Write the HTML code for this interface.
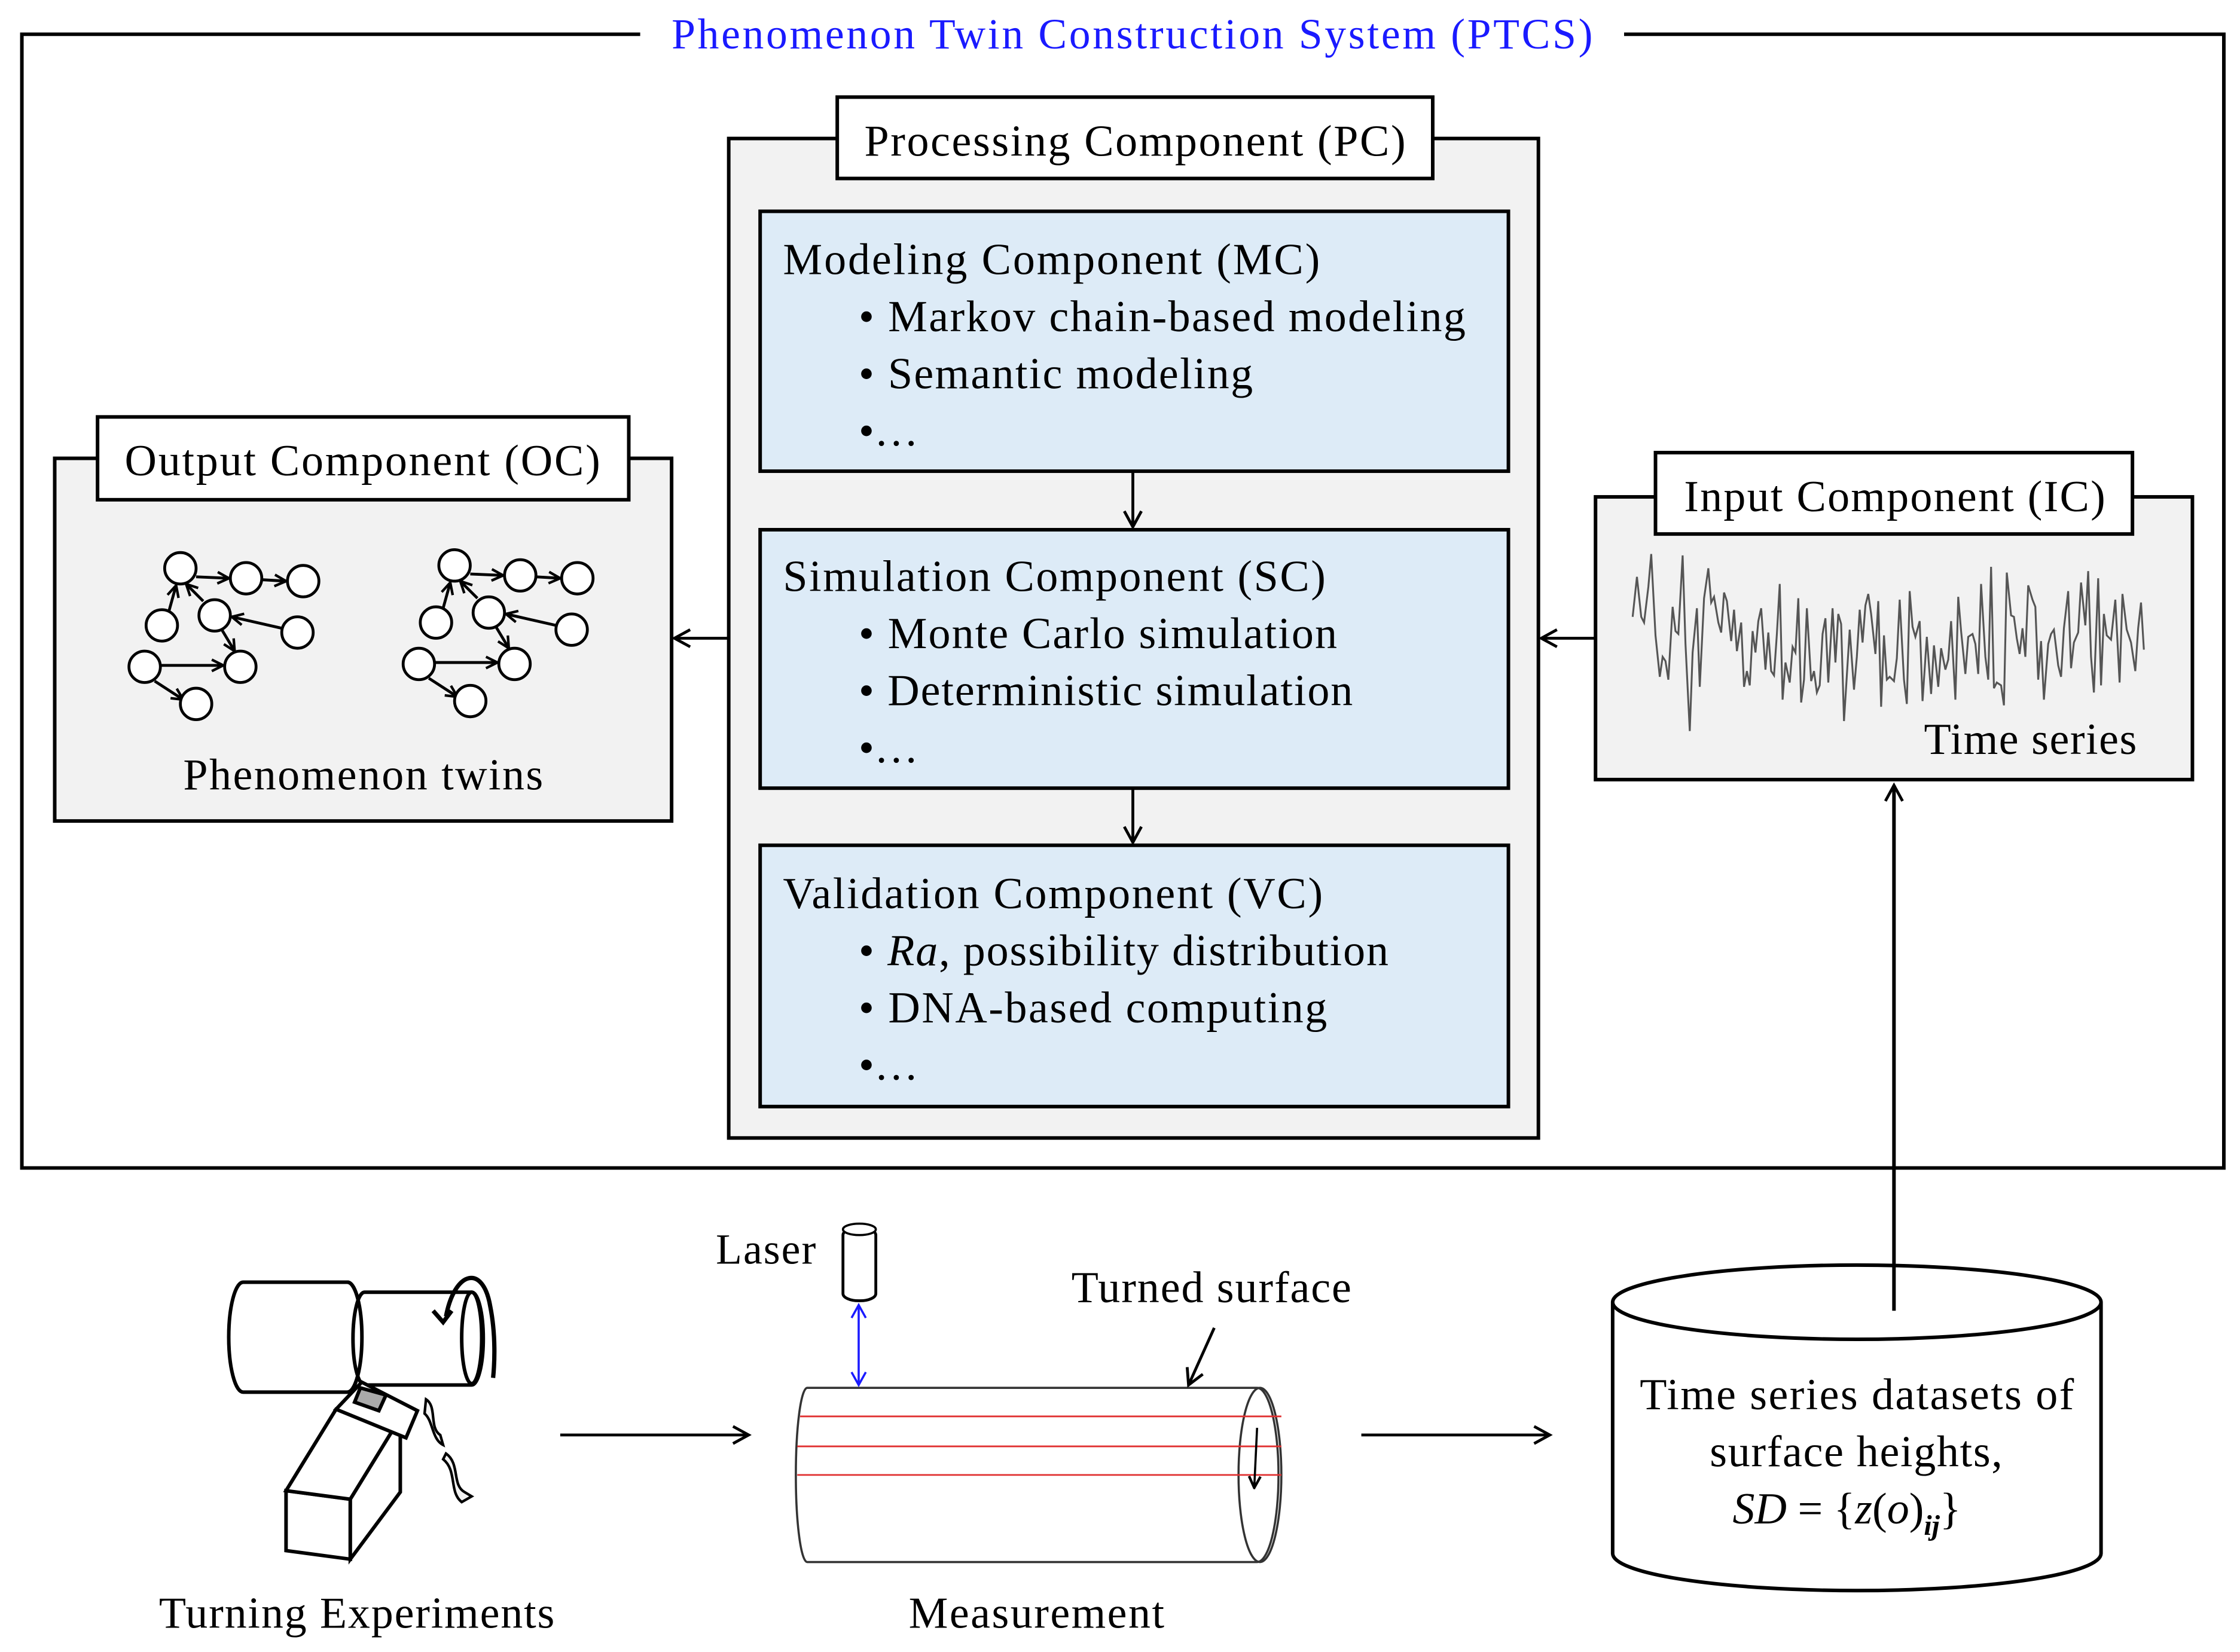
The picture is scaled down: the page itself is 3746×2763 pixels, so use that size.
<!DOCTYPE html>
<html><head><meta charset="utf-8"><style>
html,body{margin:0;padding:0;background:#fff}
svg{display:block}
text{font-family:"Liberation Serif",serif;fill:#000}
</style></head><body>
<svg width="3746" height="2763" viewBox="0 0 1568 1157" xmlns="http://www.w3.org/2000/svg">
<defs>
<marker id="ah" markerWidth="14" markerHeight="14" refX="12" refY="7" orient="auto" markerUnits="userSpaceOnUse">
<path d="M1,1 L12,7 L1,13" fill="none" stroke="#000" stroke-width="2"/>
</marker>
<marker id="bh" markerWidth="12" markerHeight="12" refX="10" refY="6" orient="auto-start-reverse" markerUnits="userSpaceOnUse">
<path d="M1,1 L10,6 L1,11" fill="none" stroke="#1a1aff" stroke-width="1.5"/>
</marker>
<marker id="sh" markerWidth="10" markerHeight="10" refX="9" refY="5" orient="auto" markerUnits="userSpaceOnUse">
<path d="M1,1 L9,5 L1,9" fill="none" stroke="#000" stroke-width="1.8"/>
</marker>
</defs>

<path d="M448,24 L15,24 L15,818 L1557,818 L1557,24 L1137,24" fill="none" stroke="#000" stroke-width="2.5"/>
<text x="470" y="34" font-size="30" textLength="645" lengthAdjust="spacing" style="fill:#1a1aff">Phenomenon Twin Construction System (PTCS)</text>

<rect x="510" y="97" width="567" height="700" fill="#f2f2f2" stroke="#000" stroke-width="2.5"/>
<rect x="586" y="68" width="417" height="57" fill="#fff" stroke="#000" stroke-width="2.5"/>
<text x="605" y="109" font-size="31" textLength="379" lengthAdjust="spacing">Processing Component (PC)</text>

<rect x="532" y="148" width="524" height="182" fill="#ddebf7" stroke="#000" stroke-width="2.5"/>
<text x="548" y="192" font-size="31" textLength="376" lengthAdjust="spacing">Modeling Component (MC)</text>
<text x="601" y="232" font-size="31" textLength="425" lengthAdjust="spacing">• Markov chain-based modeling</text>
<text x="601" y="272" font-size="31" textLength="276" lengthAdjust="spacing">• Semantic modeling</text>
<text x="601" y="312" font-size="31">•…</text>

<rect x="532" y="371" width="524" height="181" fill="#ddebf7" stroke="#000" stroke-width="2.5"/>
<text x="548" y="414" font-size="31" textLength="380" lengthAdjust="spacing">Simulation Component (SC)</text>
<text x="601" y="454" font-size="31" textLength="335" lengthAdjust="spacing">• Monte Carlo simulation</text>
<text x="601" y="494" font-size="31" textLength="346" lengthAdjust="spacing">• Deterministic simulation</text>
<text x="601" y="534" font-size="31">•…</text>

<rect x="532" y="592" width="524" height="183" fill="#ddebf7" stroke="#000" stroke-width="2.5"/>
<text x="548" y="636" font-size="31" textLength="378" lengthAdjust="spacing">Validation Component (VC)</text>
<text x="601" y="676" font-size="31" textLength="371" lengthAdjust="spacing">• <tspan font-style="italic">Ra</tspan>, possibility distribution</text>
<text x="601" y="716" font-size="31" textLength="328" lengthAdjust="spacing">• DNA-based computing</text>
<text x="601" y="756" font-size="31">•…</text>

<line x1="793" y1="330" x2="793" y2="369" stroke="#000" stroke-width="2" marker-end="url(#ah)"/>
<line x1="793" y1="552" x2="793" y2="590" stroke="#000" stroke-width="2" marker-end="url(#ah)"/>

<rect x="38" y="321" width="432" height="254" fill="#f2f2f2" stroke="#000" stroke-width="2.5"/>
<rect x="68" y="292" width="372" height="58" fill="#fff" stroke="#000" stroke-width="2.5"/>
<text x="87" y="333" font-size="31" textLength="333" lengthAdjust="spacing">Output Component (OC)</text>
<text x="128" y="553" font-size="31" textLength="252" lengthAdjust="spacing">Phenomenon twins</text>

<g id="net" fill="#fff" stroke="#000" stroke-width="2">
<line x1="137" y1="404" x2="160" y2="405" marker-end="url(#sh)"/>
<line x1="183" y1="406" x2="200" y2="407" marker-end="url(#sh)"/>
<line x1="118" y1="428" x2="123" y2="410" marker-end="url(#sh)"/>
<line x1="142" y1="421" x2="130" y2="409" marker-end="url(#sh)"/>
<line x1="197" y1="440" x2="162" y2="432" marker-end="url(#sh)"/>
<line x1="112" y1="466" x2="156" y2="466" marker-end="url(#sh)"/>
<line x1="155" y1="441" x2="164" y2="456" marker-end="url(#sh)"/>
<line x1="108" y1="477" x2="128" y2="490" marker-end="url(#sh)"/>
<circle cx="126" cy="398" r="11"/><circle cx="172" cy="405" r="11"/><circle cx="212" cy="407" r="11"/>
<circle cx="113" cy="438" r="11"/><circle cx="150" cy="431" r="11"/><circle cx="208" cy="443" r="11"/>
<circle cx="101" cy="467" r="11"/><circle cx="168" cy="467" r="11"/><circle cx="137" cy="493" r="11"/>
</g>
<use href="#net" transform="translate(192,-2)"/>

<line x1="510" y1="447" x2="472" y2="447" stroke="#000" stroke-width="2" marker-end="url(#ah)"/>

<rect x="1117" y="348" width="418" height="198" fill="#f2f2f2" stroke="#000" stroke-width="2.5"/>
<rect x="1159" y="317" width="334" height="57" fill="#fff" stroke="#000" stroke-width="2.5"/>
<text x="1179" y="358" font-size="31" textLength="295" lengthAdjust="spacing">Input Component (IC)</text>
<text x="1347" y="528" font-size="31" textLength="149" lengthAdjust="spacing">Time series</text>
<polyline fill="none" stroke="#555" stroke-width="1.3" points="1143,432 1146,404 1149,432 1151,436 1154,411 1156,388 1159,445 1162,474 1164,460 1166,463 1168,476 1171,425 1173,442 1175,444 1178,389 1180,451 1183,512 1185,457 1188,426 1190,481 1193,419 1196,398 1198,422 1200,418 1203,436 1205,443 1207,415 1209,421 1212,449 1214,427 1216,456 1219,436 1221,481 1223,470 1225,480 1227,442 1229,457 1231,435 1233,426 1236,469 1238,443 1240,470 1242,473 1244,444 1246,409 1248,490 1250,464 1253,478 1255,453 1257,457 1259,419 1261,492 1263,476 1265,426 1268,477 1270,470 1272,485 1274,480 1276,444 1278,433 1280,478 1283,426 1285,464 1287,430 1289,437 1291,505 1293,473 1295,441 1298,483 1300,460 1302,427 1304,450 1306,424 1308,416 1310,430 1313,458 1315,421 1317,495 1319,445 1321,476 1323,474 1326,477 1328,461 1330,420 1333,476 1335,493 1337,414 1339,439 1341,446 1344,435 1346,491 1349,446 1352,486 1354,452 1357,481 1359,454 1362,469 1364,462 1366,435 1369,490 1371,418 1373,442 1376,472 1378,446 1381,444 1383,451 1385,472 1387,409 1390,460 1392,476 1394,397 1396,482 1398,478 1401,480 1403,494 1405,401 1408,431 1410,432 1412,447 1414,458 1416,440 1418,460 1420,410 1423,420 1425,425 1427,476 1429,449 1431,490 1434,451 1436,444 1438,441 1441,466 1443,474 1445,440 1448,414 1450,468 1452,450 1455,443 1457,408 1460,438 1462,400 1464,460 1466,485 1469,405 1471,480 1473,430 1475,445 1478,448 1481,420 1484,478 1486,416 1489,441 1492,450 1495,470 1497,440 1499,422 1501,455"/>

<line x1="1117" y1="447" x2="1079" y2="447" stroke="#000" stroke-width="2" marker-end="url(#ah)"/>

<path d="M1129,912 L1129,1088 A171,26 0 0 0 1471,1088 L1471,912" fill="#fff" stroke="#000" stroke-width="2.5"/>
<ellipse cx="1300" cy="912" rx="171" ry="26" fill="#fff" stroke="#000" stroke-width="2.5"/>
<text x="1148" y="987" font-size="31" textLength="304" lengthAdjust="spacing">Time series datasets of</text>
<text x="1197" y="1027" font-size="31" textLength="205" lengthAdjust="spacing">surface heights,</text>
<text x="1213" y="1067" font-size="31"><tspan font-style="italic">SD</tspan> = {<tspan font-style="italic">z</tspan>(<tspan font-style="italic">o</tspan>)<tspan font-style="italic" font-weight="bold" font-size="20" dy="8">ij</tspan><tspan dy="-8">}</tspan></text>
<line x1="1326" y1="918" x2="1326" y2="550" stroke="#000" stroke-width="2.5" marker-end="url(#ah)"/>

<line x1="392" y1="1005" x2="524" y2="1005" stroke="#000" stroke-width="2" marker-end="url(#ah)"/>
<line x1="953" y1="1005" x2="1085" y2="1005" stroke="#000" stroke-width="2" marker-end="url(#ah)"/>

<g stroke="#000" stroke-width="2.5" fill="#fff">
<path d="M170,898 L243,898 A10,38 0 0 1 243,975 L170,975 A10,38 0 0 1 170,898 Z"/>
<path d="M255,905 L330,905 A8,32 0 0 1 330,970 L255,970 A8,32 0 0 1 255,905 Z"/>
<ellipse cx="330" cy="937" rx="7" ry="32"/>
<path d="M243,898 A10,38 0 0 1 243,975" fill="none"/>
<path d="M312,922 C318,890 338,885 343,915 C347,935 346,955 345,965" fill="none" stroke-width="3"/>
<path d="M303,918 L310,926 L316,918" fill="none" stroke-width="3"/>
<path d="M200,1044 L245,1050 L245,1092 L200,1086 Z"/>
<path d="M200,1044 L235,987 L280,993 L245,1050 Z"/>
<path d="M245,1050 L280,993 L280,1045 L245,1092 Z"/>
<path d="M235,987 L253,968 L292,988 L284,1007 Z"/>
<path d="M252,972 L270,977 L265,988 L248,982 Z" fill="#aaa"/>
<path d="M298,980 C306,985 300,1000 308,1005 L310,1012 C302,1008 303,995 297,990 Z" fill="#f2f2f2" stroke-width="1.8"/>
<path d="M312,1018 C322,1025 316,1040 325,1045 L330,1048 L323,1052 C314,1045 320,1030 310,1022 Z" fill="#f2f2f2" stroke-width="1.8"/>
</g>
<text x="111" y="1140" font-size="31" textLength="277" lengthAdjust="spacing">Turning Experiments</text>

<path d="M565,972 L880,972 A15,61 0 0 1 880,1094 L565,1094 A8,61 0 0 1 565,972 Z" fill="#fff" stroke="#333" stroke-width="1.5"/>
<ellipse cx="882" cy="1033" rx="15" ry="61" fill="none" stroke="#333" stroke-width="1.5"/>
<g stroke="#e03030" stroke-width="1.2">
<line x1="560" y1="992" x2="897" y2="992"/>
<line x1="558" y1="1013" x2="897" y2="1013"/>
<line x1="558" y1="1033" x2="897" y2="1033"/>
</g>
<line x1="880" y1="1000" x2="878" y2="1042" stroke="#000" stroke-width="1.5" marker-end="url(#sh)"/>
<rect x="590" y="860" width="23" height="51" rx="11" ry="5" fill="#fff" stroke="#000" stroke-width="2"/>
<ellipse cx="601.5" cy="861" rx="11.5" ry="4" fill="#fff" stroke="#000" stroke-width="1.5"/>
<line x1="601" y1="914" x2="601" y2="970" stroke="#1a1aff" stroke-width="1.5" marker-start="url(#bh)" marker-end="url(#bh)"/>
<text x="501" y="885" font-size="30" textLength="70" lengthAdjust="spacing">Laser</text>
<text x="750" y="912" font-size="31" textLength="196" lengthAdjust="spacing">Turned surface</text>
<line x1="850" y1="930" x2="832" y2="970" stroke="#000" stroke-width="2" marker-end="url(#ah)"/>
<text x="636" y="1140" font-size="31" textLength="179" lengthAdjust="spacing">Measurement</text>
</svg>
</body></html>
